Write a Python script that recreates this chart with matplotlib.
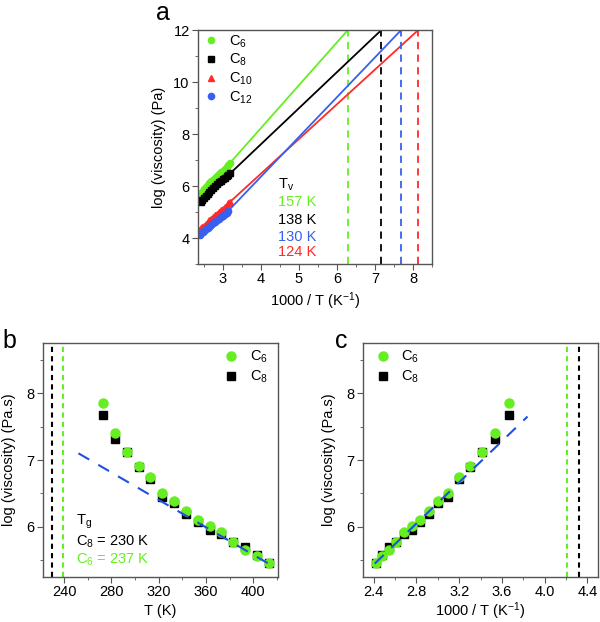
import matplotlib
matplotlib.use("Agg")
import matplotlib.pyplot as plt
from matplotlib.ticker import MultipleLocator

plt.rcParams['font.family'] = ['Liberation Sans', 'DejaVu Sans']
plt.rcParams['mathtext.fontset'] = 'custom'
plt.rcParams['mathtext.rm'] = 'Liberation Sans'
plt.rcParams['mathtext.it'] = 'Liberation Sans'

GREEN = '#66ee22'
RED = '#ff2a2a'
BLUE = '#3860f0'
DBLUE = '#2050e0'

# ---- panel a data: log viscosity vs 1000/T
c6_x = [2.40, 2.44, 2.48, 2.52, 2.56, 2.60, 2.65, 2.70, 2.75, 2.80, 2.85, 2.90, 2.95, 3.00, 3.05, 3.10, 3.15, 3.20]
c6_y = [5.62, 5.72, 5.80, 5.88, 5.96, 6.03, 6.10, 6.18, 6.25, 6.32, 6.39, 6.46, 6.52, 6.58, 6.65, 6.72, 6.80, 6.90]
c8_x = [2.42, 2.46, 2.50, 2.55, 2.60, 2.65, 2.70, 2.75, 2.80, 2.85, 2.90, 2.95, 3.00, 3.05, 3.10, 3.15, 3.20]
c8_y = [5.40, 5.47, 5.53, 5.61, 5.69, 5.77, 5.85, 5.93, 6.00, 6.07, 6.14, 6.20, 6.26, 6.32, 6.38, 6.44, 6.49]
c10_x = [2.38, 2.42, 2.46, 2.50, 2.55, 2.60, 2.65, 2.70, 2.75, 2.80, 2.85, 2.90, 2.95, 3.00, 3.05, 3.10, 3.15, 3.20]
c10_y = [4.31, 4.37, 4.42, 4.48, 4.55, 4.61, 4.68, 4.75, 4.82, 4.88, 4.94, 5.00, 5.06, 5.12, 5.18, 5.25, 5.33, 5.40]
c12_x = [2.40, 2.44, 2.48, 2.52, 2.56, 2.60, 2.65, 2.70, 2.75, 2.80, 2.85, 2.90, 2.95, 3.00, 3.05, 3.10, 3.15]
c12_y = [4.12, 4.18, 4.23, 4.28, 4.33, 4.38, 4.44, 4.50, 4.56, 4.62, 4.68, 4.74, 4.80, 4.86, 4.92, 4.98, 5.05]

# extrapolation lines to log(visc) = 12 and the Tv positions
fit_x = {'C6': [3.20, 6.29], 'C8': [3.20, 7.17], 'C10': [3.20, 8.14], 'C12': [3.15, 7.69]}
fit_y = {'C6': [6.90, 12.0], 'C8': [6.49, 12.0], 'C10': [5.40, 12.0], 'C12': [5.05, 12.0]}
tv_labels = ['157 K', '138 K', '130 K', '124 K']

# ---- panels b, c data
T_b = [273, 283, 293, 303, 313, 323, 333, 343, 353, 363, 373, 383, 393, 403, 413]
c6_b = [7.85, 7.41, 7.12, 6.91, 6.74, 6.50, 6.38, 6.23, 6.11, 6.02, 5.93, 5.78, 5.66, 5.56, 5.46]
c8_b = [7.68, 7.32, 7.12, 6.90, 6.72, 6.45, 6.36, 6.19, 6.08, 5.96, 5.90, 5.78, 5.70, 5.58, 5.46]
arr_b_x = [252, 413]
arr_b_y = [7.10, 5.45]
arr_c_x = [2.41, 3.84]
arr_c_y = [5.45, 7.65]
tg_b = {'C8': 230, 'C6': 239}
tg_c = {'C6': 4.21, 'C8': 4.32}

inv_T = [1000.0 / t for t in T_b]


def style_axes(ax):
    for s in ax.spines.values():
        s.set_color('#555555')
        s.set_linewidth(1.0)
    ax.tick_params(which='both', direction='out', color='#555555', labelsize=10.5, pad=2)
    ax.tick_params(which='major', length=4)
    ax.tick_params(which='minor', length=2.5)


fig = plt.figure(figsize=(6, 6.22), dpi=100)

# ---------------- panel a
ax = fig.add_axes([198 / 600, 1 - 264 / 622, 234 / 600, 234 / 622])
series = [('C6', c6_x, c6_y, GREEN, 'o', '$\\mathregular{C_6}$'),
          ('C8', c8_x, c8_y, 'black', 's', '$\\mathregular{C_8}$'),
          ('C10', c10_x, c10_y, RED, '^', '$\\mathregular{C_{10}}$'),
          ('C12', c12_x, c12_y, BLUE, 'o', '$\\mathregular{C_{12}}$')]
for key, xs, ys, col, mk, lab in series:
    ax.plot(fit_x[key], fit_y[key], color=col, lw=1.3)
    ax.vlines(fit_x[key][-1], 3, 12, colors=col, linestyles=(0, (4, 3)), lw=1.3)
    ax.plot(xs, ys, ls='none', marker=mk, color=col, ms=4.5, label=lab)

ax.set_xlim(2.35, 8.5)
ax.set_ylim(3, 12)
ax.xaxis.set_major_locator(MultipleLocator(1))
ax.xaxis.set_minor_locator(MultipleLocator(0.5))
ax.yaxis.set_major_locator(MultipleLocator(2))
ax.yaxis.set_minor_locator(MultipleLocator(1))
style_axes(ax)
ax.set_xlabel('1000 / T (K$^{\\mathregular{-1}}$)', fontsize=10.5, labelpad=3)
ax.set_ylabel('log (viscosity) (Pa)', fontsize=10.5)
ax.yaxis.set_label_coords(-0.135, 0.5)
ax.legend(loc='upper left', bbox_to_anchor=(0.026, 0.985), frameon=False, fontsize=10.5,
          handlelength=1.0, handletextpad=0.7, labelspacing=0.15, borderaxespad=0, borderpad=0)
ax.text(4.45, 6.04, '$\\mathregular{T_v}$', fontsize=10.5, va='center')
for lab, yy, col in zip(tv_labels, [5.40, 4.69, 4.05, 3.47], [GREEN, 'black', BLUE, RED]):
    ax.text(4.45, yy, lab, fontsize=10.5, color=col, va='center')

# ---------------- panel b
bx = fig.add_axes([43 / 600, 1 - 577 / 622, 235 / 600, 234 / 622])
bx.axvline(tg_b['C8'], color='black', ls=(0, (2.5, 2)), lw=1.5)
bx.axvline(tg_b['C6'], color=GREEN, ls=(0, (2.5, 2)), lw=1.5)
bx.plot(arr_b_x, arr_b_y, color=DBLUE, ls=(0, (6, 5)), lw=1.5, zorder=4)
bx.plot(T_b, c8_b, ls='none', marker='s', color='black', ms=5.5, label='$\\mathregular{C_8}$', zorder=3)
bx.plot(T_b, c6_b, ls='none', marker='o', color=GREEN, ms=6.5, label='$\\mathregular{C_6}$', zorder=3)
bx.set_xlim(222, 421)
bx.set_ylim(5.25, 8.75)
bx.xaxis.set_major_locator(MultipleLocator(40))
bx.xaxis.set_minor_locator(MultipleLocator(20))
bx.yaxis.set_major_locator(MultipleLocator(1))
bx.yaxis.set_minor_locator(MultipleLocator(0.5))
style_axes(bx)
bx.set_xlabel('T (K)', fontsize=10.5, labelpad=3)
bx.set_ylabel('log (viscosity) (Pa.s)', fontsize=10.5)
bx.yaxis.set_label_coords(-0.115, 0.5)
h, l = bx.get_legend_handles_labels()
bx.legend(h[::-1], l[::-1], loc='upper left', bbox_to_anchor=(0.768, 0.975), frameon=False,
          fontsize=10.5, handlelength=1.0, handletextpad=0.85, labelspacing=0.25,
          borderaxespad=0, borderpad=0)
bx.text(250, 6.07, '$\\mathregular{T_g}$', fontsize=10.5, va='center')
bx.text(250, 5.77, '$\\mathregular{C_8}$ = 230 K', fontsize=10.5, va='center')
bx.text(250, 5.51, '$\\mathregular{C_6}$ = 237 K', fontsize=10.5, va='center', color=GREEN)

# ---------------- panel c
cx = fig.add_axes([363 / 600, 1 - 577 / 622, 235 / 600, 234 / 622])
cx.axvline(tg_c['C6'], color=GREEN, ls=(0, (2.5, 2)), lw=1.5)
cx.axvline(tg_c['C8'], color='black', ls=(0, (2.5, 2)), lw=1.5)
cx.plot(arr_c_x, arr_c_y, color=DBLUE, ls=(0, (6, 5)), lw=1.5, zorder=4)
cx.plot(inv_T, c8_b, ls='none', marker='s', color='black', ms=5.5, label='$\\mathregular{C_8}$', zorder=3)
cx.plot(inv_T, c6_b, ls='none', marker='o', color=GREEN, ms=6.5, label='$\\mathregular{C_6}$', zorder=3)
cx.set_xlim(2.3, 4.5)
cx.set_ylim(5.25, 8.75)
cx.xaxis.set_major_locator(MultipleLocator(0.4))
cx.xaxis.set_minor_locator(MultipleLocator(0.2))
cx.yaxis.set_major_locator(MultipleLocator(1))
cx.yaxis.set_minor_locator(MultipleLocator(0.5))
cx.xaxis.set_major_formatter(plt.FormatStrFormatter('%.1f'))
style_axes(cx)
cx.set_xlabel('1000 / T (K$^{\\mathregular{-1}}$)', fontsize=10.5, labelpad=1)
cx.set_ylabel('log (viscosity) (Pa.s)', fontsize=10.5)
cx.yaxis.set_label_coords(-0.115, 0.5)
h, l = cx.get_legend_handles_labels()
cx.legend(h[::-1], l[::-1], loc='upper left', bbox_to_anchor=(0.055, 0.975), frameon=False,
          fontsize=10.5, handlelength=1.0, handletextpad=0.75, labelspacing=0.25,
          borderaxespad=0, borderpad=0)

fig.text(163 / 600, 1 - 13 / 622, 'a', fontsize=18, ha='center', va='center')
fig.text(9 / 600, 1 - 341 / 622, 'b', fontsize=18, ha='center', va='center')
fig.text(341 / 600, 1 - 341 / 622, 'c', fontsize=18, ha='center', va='center')

fig.savefig('out.png', dpi=100)
